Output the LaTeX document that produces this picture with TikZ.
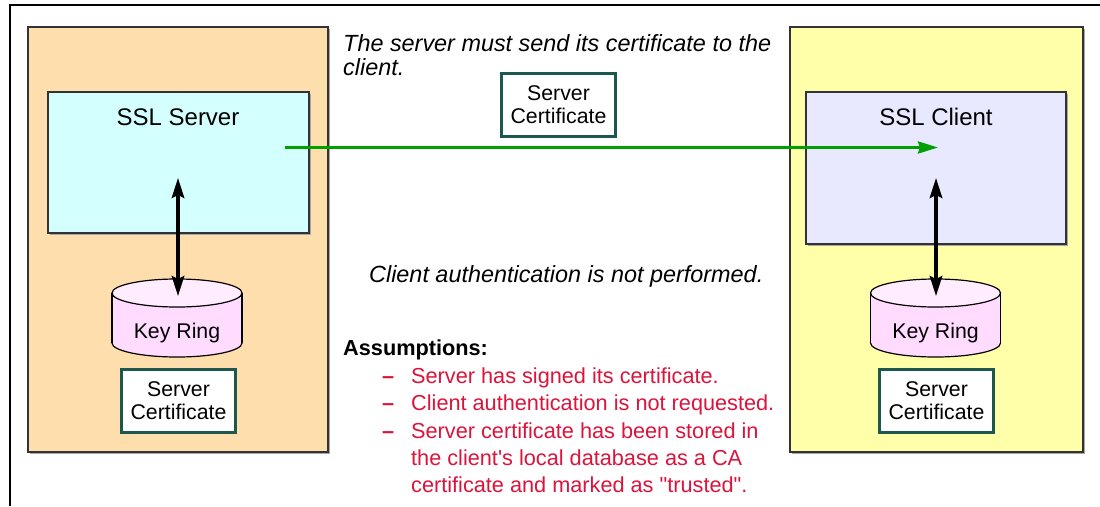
\documentclass[tikz,border=0pt]{standalone}
\usepackage{fontspec}
\newfontfamily\arial{Liberation Sans}
\usetikzlibrary{arrows.meta,shadows}

\definecolor{zoneorange}{RGB}{255,222,173}
\definecolor{zoneyellow}{RGB}{255,255,170}
\definecolor{srvcyan}{RGB}{212,255,255}
\definecolor{clilav}{RGB}{232,232,255}
\definecolor{ringbody}{RGB}{255,220,255}
\definecolor{ringtop}{RGB}{255,236,255}
\definecolor{certframe}{RGB}{28,88,78}
\definecolor{notered}{RGB}{220,20,60}
\definecolor{sendgreen}{RGB}{0,160,0}

\tikzset{
  zone/.style={draw=black!80, line width=1.1pt, inner sep=0pt,
    drop shadow={shadow xshift=1.5pt, shadow yshift=-1.5pt, fill=black!35, opacity=1}},
  endpoint/.style={zone},
  title/.style={inner sep=0pt, anchor=base, font=\arial\fontsize{24}{26}\selectfont},
  cert/.style={draw=certframe, line width=3pt, fill=white, inner sep=0pt,
    minimum width=114pt, minimum height=63pt, align=center,
    font=\arial\fontsize{21.3}{23}\selectfont},
  ringtext/.style={inner sep=0pt, anchor=base, font=\arial\fontsize{21.3}{24}\selectfont},
  remark/.style={inner sep=0pt, anchor=base west, font=\arial\itshape\fontsize{23.4}{26}\selectfont},
  headtext/.style={inner sep=0pt, anchor=base west, font=\arial\bfseries\fontsize{21.7}{26}\selectfont},
  itemtext/.style={inner sep=0pt, anchor=base west, text=notered, font=\arial\fontsize{21.7}{26}\selectfont},
  itemdash/.style={inner sep=0pt, anchor=base west, text=notered, font=\arial\bfseries\fontsize{21.7}{26}\selectfont},
  dblarrow/.style={line width=3.3pt,
    {Stealth[length=20pt,width=12.5pt,inset=3pt]}-{Stealth[length=20pt,width=12.5pt,inset=3pt]}},
  sendarrow/.style={draw=sendgreen, line width=3pt,
    -{Stealth[length=20pt,width=12pt,inset=2pt]}},
  keyringdb/.pic={
    \filldraw[fill=ringbody, draw=black, line width=1.2pt] (0,50) ellipse [x radius=65, y radius=14];
    \fill[ringbody] (-65,0) rectangle (65,50);
    \draw[line width=1.2pt] (-65,0) -- (-65,50) (65,0) -- (65,50);
    \filldraw[fill=ringtop, draw=black, line width=1.2pt] (0,0) ellipse [x radius=65, y radius=14];
  }
}

\begin{document}
\begin{tikzpicture}[x=1pt, y=-1pt]
\useasboundingbox (0,0) rectangle (1100,506);
\fill[white] (0,0) rectangle (1100,506);

% page frame
\draw[line width=1.2pt] (10,506) -- (10,5) -- (1100,5);

% server side
\node[zone, fill=zoneorange, minimum width=300pt, minimum height=425pt] (srvzone) at (178,239.5) {};
\node[endpoint, fill=srvcyan, minimum width=261pt, minimum height=141pt] (srv) at (178.5,162.5) {};
\node[title] (srvname) at (178,125) {SSL Server};
\pic at (177,293) {keyringdb};
\node[ringtext] (ringL) at (177,338) {Key Ring};
\node[cert] (certL) at (178.5,400.5) {Server\\Certificate};

% client side
\node[zone, fill=zoneyellow, minimum width=293pt, minimum height=425pt] (clizone) at (936.5,239.5) {};
\node[endpoint, fill=clilav, minimum width=260pt, minimum height=152pt] (cli) at (936,168) {};
\node[title] (cliname) at (936,125) {SSL Client};
\pic at (935.5,293) {keyringdb};
\node[ringtext] (ringR) at (935.5,338) {Key Ring};
\node[cert] (certR) at (936.5,401) {Server\\Certificate};

% certificate in transit
\node[cert] (certM) at (558.5,104.5) {Server\\Certificate};

% arrows
\coordinate (srvtip) at (178,178);
\coordinate (ringLtop) at (178,296);
\coordinate (clitip) at (936,178);
\coordinate (ringRtop) at (936,296);
\coordinate (sendfrom) at (285,147.5);
\coordinate (sendto) at (938,147.5);
\draw[dblarrow] (srvtip) -- (ringLtop);
\draw[dblarrow] (clitip) -- (ringRtop);
\draw[sendarrow] (sendfrom) -- (sendto);

% remarks
\node[remark] (msg1) at (343,51) {The server must send its certificate to the};
\node[remark] (msg2) at (343,75) {client.};
\node[remark] (noauth) at (369,282) {Client authentication is not performed.};

% assumptions
\node[headtext] (assume) at (343,355) {Assumptions:};
\node[itemdash] (d1) at (382,383) {–};
\node[itemtext] (a1) at (411,383) {Server has signed its certificate.};
\node[itemdash] (d2) at (382,410) {–};
\node[itemtext] (a2) at (411,410) {Client authentication is not requested.};
\node[itemdash] (d3) at (382,438) {–};
\node[itemtext] (a3) at (411,438) {Server certificate has been stored in};
\node[itemtext] (a3b) at (411,465) {the client's local database as a CA};
\node[itemtext] (a3c) at (411,492) {certificate and marked as "trusted".};
\end{tikzpicture}
\end{document}
